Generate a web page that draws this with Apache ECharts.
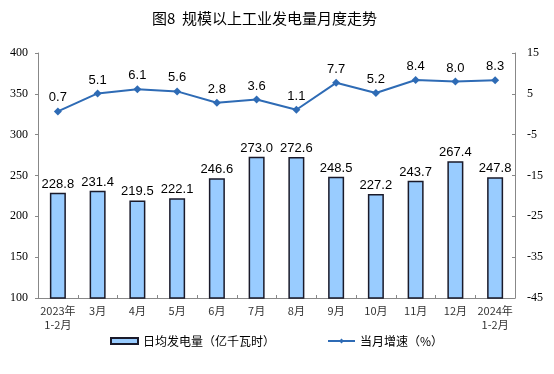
<!DOCTYPE html>
<html><head><meta charset="utf-8">
<script src="https://cdn.jsdelivr.net/npm/echarts@6/dist/echarts.min.js"></script>
<style>html,body{margin:0;padding:0;background:#fff}#c{width:554px;height:374px}</style>
</head><body><div id="c"></div>
<script>
const categories = ['2023年\n1-2月','3月','4月','5月','6月','7月','8月','9月','10月','11月','12月','2024年\n1-2月'];
const dailyOutput = [228.8,231.4,219.5,222.1,246.6,273.0,272.6,248.5,227.2,243.7,267.4,247.8];
const growth = [0.7,5.1,6.1,5.6,2.8,3.6,1.1,7.7,5.2,8.4,8.0,8.3];
const barName = '日均发电量（亿千瓦时）';
const lineName = '当月增速（%）';
const titleText = '图8  规模以上工业发电量月度走势';

const chart = echarts.init(document.getElementById('c'));
const serif = 'Liberation Serif';
const sans = 'Liberation Sans, Noto Sans CJK SC';
chart.setOption({
  animation: false,
  title: {text: titleText, left: 147, top: 6,
    textStyle: {fontFamily: 'Noto Sans CJK SC', fontSize: 15, fontWeight: 'normal', color: '#000'}},
  legend: {
    bottom: 22, left: 105, itemGap: 52, itemWidth: 27, itemHeight: 6,
    textStyle: {fontFamily: 'Noto Sans CJK SC', fontSize: 12, color: '#000'},
    data: [{name: barName, icon: 'rect'}, {name: lineName}]
  },
  grid: {left: 38, right: 39, top: 53, bottom: 76},
  xAxis: {
    type: 'category', data: categories, boundaryGap: true,
    axisLine: {onZero: false, lineStyle: {color: '#888'}},
    axisTick: {show: true, inside: true, length: 3, lineStyle: {color: '#888'}},
    axisLabel: {fontFamily: 'Noto Sans CJK SC', fontSize: 11, color: '#333', lineHeight: 14, margin: 6, interval: 0}
  },
  yAxis: [
    {type: 'value', min: 100, max: 400, interval: 50,
     axisLine: {show: true, lineStyle: {color: '#888'}},
     axisTick: {show: true, length: 3, lineStyle: {color: '#888'}},
     splitLine: {show: false},
     axisLabel: {fontFamily: serif, fontSize: 12, color: '#000', margin: 10}},
    {type: 'value', min: -45, max: 15, interval: 10,
     axisLine: {show: true, lineStyle: {color: '#888'}},
     axisTick: {show: true, inside: true, length: 3, lineStyle: {color: '#888'}},
     splitLine: {show: false},
     axisLabel: {fontFamily: serif, fontSize: 12, color: '#000', margin: 12}}
  ],
  series: [
    {name: barName, type: 'bar', data: dailyOutput, barWidth: 16, yAxisIndex: 0,
     itemStyle: {color: '#99CCFF', borderColor: '#1a1a2a', borderWidth: 1.5},
     label: {show: true, position: 'top', distance: 2, fontFamily: sans, fontSize: 13, color: '#000',
       formatter: p => p.value.toFixed(1)}},
    {name: lineName, type: 'line', data: growth, yAxisIndex: 1,
     symbol: 'diamond', symbolSize: 8,
     lineStyle: {color: '#2E6BB5', width: 2},
     itemStyle: {color: '#2E6BB5'},
     label: {show: true, position: 'top', distance: 3, fontFamily: sans, fontSize: 13, color: '#000',
       formatter: p => p.value.toFixed(1)}}
  ]
});
</script></body></html>
